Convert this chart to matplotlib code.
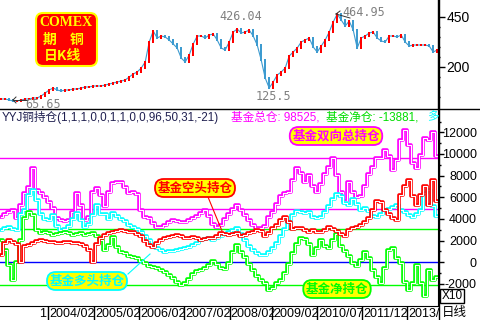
import numpy as np
import matplotlib.pyplot as plt
from matplotlib.patches import FancyBboxPatch
from matplotlib.lines import Line2D
from matplotlib.transforms import IdentityTransform

plt.rcParams['font.family'] = ['Liberation Sans', 'Noto Sans CJK SC', 'DejaVu Sans']

# COMEX copper, weekly close (scale of the price panel)
price = [40, 40, 35, 30, 30, 35, 40, 40, 45, 45,
         55, 70, 85, 95, 85, 80, 85, 85, 90, 90,
         95, 100, 100, 105, 105, 105, 110, 115, 120, 125,
         130, 135, 150, 165, 175, 195, 225, 325, 380, 345,
         355, 350, 335, 315, 295, 245, 225, 260, 315, 355,
         355, 345, 360, 365, 335, 295, 285, 325, 375, 390,
         370, 375, 385, 355, 310, 235, 145, 95, 125, 160,
         175, 195, 255, 275, 295, 325, 335, 345, 300, 275,
         305, 335, 375, 425, 465, 435, 405, 430, 385, 295,
         345, 355, 370, 375, 345, 330, 325, 355, 355, 350,
         360, 325, 305, 310, 310, 310, 310, 305, 275, 285]

# fund positions (contracts / 10)
total_pos = [4180, 4460, 4640, 4830, 4090, 5290, 6400, 6950, 8700, 6670,
             6400, 6030, 5570, 5010, 4090, 3900, 3810, 3900, 4640, 6400,
             5290, 3900, 4180, 6490, 6860, 6210, 5200, 6490, 7320, 7410,
             7410, 6950, 6400, 6490, 6300, 4830, 4180, 4090, 3630, 3260,
             3260, 3440, 3720, 3900, 3810, 3720, 3720, 3900, 4090, 4270,
             4550, 4830, 4270, 3540, 3260, 3440, 4000, 4460, 4920, 5290,
             4830, 4370, 3900, 3440, 3170, 3170, 3350, 4180, 4640, 5380,
             6120, 6400, 6490, 7600, 8700, 8240, 7410, 8060, 7040, 6490,
             7230, 8150, 8800, 9630, 8060, 6490, 5660, 7410, 6490, 6030,
             6120, 7040, 8150, 8800, 9630, 9630, 10370, 9810, 8520, 9440,
             11290, 12210, 10830, 9170, 8700, 9900, 11470, 11290, 12030, 9850]
long_pos = [2980, 3170, 3260, 3070, 2980, 4460, 4830, 6210, 6670, 5750,
            4460, 4000, 3900, 4370, 3350, 2980, 3070, 3350, 4000, 4550,
            3900, 3260, 3540, 4370, 5290, 4460, 4460, 4000, 4550, 4270,
            4000, 3810, 3440, 3260, 3070, 2800, 2430, 2060, 1600, 1320,
            1140, 950, 1040, 1040, 1140, 1230, 1320, 1410, 1600, 1780,
            2060, 2150, 2240, 2060, 2240, 2430, 2610, 2800, 2980, 3170,
            2610, 2060, 1500, 1140, 860, 670, 670, 950, 1320, 1780,
            2430, 3070, 3720, 4370, 4740, 4640, 4550, 4640, 4180, 4090,
            4180, 4640, 5200, 5840, 6300, 6120, 5470, 5290, 5840, 5380,
            4830, 5010, 4740, 4270, 4180, 4460, 4740, 4920, 5100, 5290,
            4830, 4640, 4370, 4180, 4460, 4830, 6400, 6670, 5200, 4230]
short_pos = [670, 1780, 2060, 1870, 1690, 50, 1500, 1600, 1780, 1970,
             2060, 1970, 1870, 1870, 1780, 1780, 1870, 1870, 1780, 1780,
             1690, 1500, 1140, 50, 1690, 2240, 2520, 2700, 2800, 2890,
             2980, 2890, 2800, 2800, 2610, 2430, 1970, 1600, 1410, 1780,
             2060, 2240, 2340, 2430, 2520, 2430, 2240, 2240, 2340, 2240,
             2060, 2150, 2240, 2240, 2430, 2700, 2610, 2520, 2610, 2700,
             2430, 2520, 2700, 2800, 2980, 2890, 2430, 2700, 3170, 3440,
             3900, 4180, 3720, 3070, 3170, 3170, 2980, 2800, 2980, 2800,
             2800, 2980, 3260, 3070, 2890, 2610, 2430, 2980, 3170, 3260,
             3440, 3720, 4090, 4830, 5660, 5570, 4830, 4460, 4090, 3900,
             6210, 7040, 7600, 6120, 5290, 6210, 7040, 5290, 7600, 5620]
net_pos = [2060, 1140, -250, -1630, 30, 2060, 4090, 4640, 4370, 2980,
           2700, 2800, 2700, 2520, 2610, 2700, 2800, 2700, 2520, 2610,
           2700, 2520, 2610, 2700, 2430, 2060, 1140, 1600, 2340, 1410,
           950, 860, 580, 490, 400, 120, -60, -340, -430, -530,
           -710, -900, -1170, -1450, -1820, -2100, -1910, -1540, -1080, -800,
           -710, -530, -250, 120, -160, -530, -620, -60, 950, 1600,
           950, 490, -160, -710, -1260, -1630, -1910, -2560, -2370, -1910,
           -1630, -990, -160, 860, 1690, 2240, 2150, 1690, 670, 1320,
           2060, 1500, 1320, 2060, 2610, 1500, 1040, 580, -60, -340,
           210, 950, 400, -710, -1360, -1910, -530, 1140, 1320, 400,
           -60, -1820, -2560, -1910, -250, -1910, -3110, -710, -1630, -1390]

total_levels = [9630, 4950]
net_levels = [3070, -2100]

date_ticks = [11.7, 23.2, 34.4, 45.7, 57.1, 67.7, 79.0, 90.2, 101.5]
date_labels = ['2004/02', '2005/02', '2006/02', '2007/02', '2008/02',
               '2009/02', '2010/07', '2011/12', '2013/']

MAG, CYA, GRN, RED = '#FF00FF', '#00FFFF', '#00FF00', '#FF0000'
UP, DOWN = '#FF0000', '#3D9BD0'


def P(x, y):
    return x / 480, 1 - y / 320


fig = plt.figure(figsize=(4.8, 3.2), dpi=100)
ax1 = fig.add_axes([0, 1 - 108 / 320, 438 / 480, 108 / 320])
ax2 = fig.add_axes([0, 1 - 306 / 320, 438 / 480, 197 / 320])

x = np.arange(len(price))
xlim = (-0.3, 109.2)

# price bars: from previous close to close
p = np.array(price, dtype=float)
prev = np.r_[p[0], p[:-1]]
lo = np.minimum(prev, p) - 3
hi = np.maximum(prev, p) + 3
cols = [UP if c >= o else DOWN for o, c in zip(prev, p)]
ax1.plot(x, p, color=DOWN, lw=0.8, zorder=1)
ax1.bar(x, hi - lo, bottom=lo, width=0.6, color=cols, linewidth=0, zorder=2)
ax1.set_xlim(*xlim)
ax1.set_ylim(-5, 535)
for s in ['left', 'top', 'bottom']:
    ax1.spines[s].set_visible(False)
ax1.spines['right'].set_linewidth(1)
ax1.set_xticks([])
ax1.yaxis.tick_right()
ax1.set_yticks([200, 450], ['200', '450'])
ax1.set_yticks([50, 100, 150, 250, 300, 350, 400], minor=True)
ax1.tick_params(axis='y', which='major', length=5, width=1, pad=18, labelsize=10)
ax1.tick_params(axis='y', which='minor', length=1.5, width=1)
for lab in ax1.get_yticklabels():
    lab.set_horizontalalignment('right')

mono = dict(family='DejaVu Sans Mono', color='#808080', fontsize=8.5)
fig.text(*P(241, 17), '426.04', ha='center', va='center', **mono)
fig.text(*P(364, 12), '464.95', ha='center', va='center', **mono)
fig.text(*P(273, 96), '125.5', ha='center', va='center', **mono)
fig.text(*P(43, 104), '65.65', ha='center', va='center', **mono)
for (a, b), (c, d) in [((336, 14), (350, 18)), ((336, 14), (340, 11)),
                       ((13, 100), (27, 100)), ((13, 100), (16, 97)), ((13, 100), (16, 103))]:
    fig.add_artist(Line2D([a / 480, c / 480], [1 - b / 320, 1 - d / 320], color='#333333', lw=0.7))

# COMEX badge
fig.add_artist(FancyBboxPatch((36, 320 - 66), 61, 53, boxstyle='round,pad=0,rounding_size=7',
                              fc='#FF0000', ec='#FFFF00', lw=1.5, transform=IdentityTransform()))
fig.text(*P(66, 23), 'COMEX', family='Liberation Serif', fontweight='bold', fontsize=10,
         color='#FFFF00', ha='center', va='center')
fig.text(*P(50, 40), '期', family='Noto Sans CJK SC', fontweight='bold', fontsize=10,
         color='#FFFF00', ha='center', va='center')
fig.text(*P(77, 40), '铜', family='Noto Sans CJK SC', fontweight='bold', fontsize=10,
         color='#FFFF00', ha='center', va='center')
fig.text(*P(63, 56), '日K线', family=['Noto Sans CJK SC'], fontweight='bold', fontsize=10,
         color='#FFFF00', ha='center', va='center')

# position panel
ax2.axhline(0, color='#0000FF', lw=1, zorder=1)
for lv in total_levels:
    ax2.axhline(lv, color=MAG, lw=1, zorder=1)
for lv in net_levels:
    ax2.axhline(lv, color=GRN, lw=1, zorder=1)
for vals, col in [(total_pos, MAG), (long_pos, CYA), (net_pos, GRN), (short_pos, RED)]:
    ax2.plot(x, vals, color=col, lw=2.6, drawstyle='steps-mid', zorder=2)
    ax2.plot(x, vals, color='white', lw=0.8, drawstyle='steps-mid', zorder=2)
ax2.set_xlim(*xlim)
ax2.set_ylim(-4035, 14155)
for s in ['left', 'top']:
    ax2.spines[s].set_visible(False)
ax2.yaxis.tick_right()
yt = [-2000, 0, 2000, 4000, 6000, 8000, 10000, 12000]
ax2.set_yticks(yt, [str(v) for v in yt])
ax2.set_yticks(np.arange(-3000, 14000, 1000), minor=True)
ax2.tick_params(axis='y', which='major', length=4, width=1, pad=24, labelsize=9)
ax2.tick_params(axis='y', which='minor', length=2, width=1)
for lab in ax2.get_yticklabels():
    lab.set_horizontalalignment('right')
ax2.set_xticks(date_ticks, [''] * len(date_ticks))
ax2.tick_params(axis='x', length=10, width=1, direction='out')
xt = ax2.get_xaxis_transform()
for t, lab in zip(date_ticks, date_labels):
    ax2.text(t + 0.3, -0.01, lab, transform=xt, ha='left', va='top', fontsize=9, clip_on=False)
ax2.text(date_ticks[0] - 0.4, -0.01, '1', transform=xt, ha='right', va='top', fontsize=9)

# header line
fig.text(*P(2, 117), 'YYJ铜持仓(1,1,1,0,0,1,1,0,0,96,50,31,-21)', color='#202050',
         fontsize=8.4, va='center')
fig.text(*P(231, 117), '基金总仓: 98525,', color=MAG, fontsize=8.4, va='center')
fig.text(*P(326, 117), '基金净仓: -13881,', color='#00DD00', fontsize=8.4, va='center')
fig.text(*P(427, 117), '多', color=CYA, fontsize=8.4, va='center')


def bubble(cx, cy, s, col):
    fig.text(*P(cx, cy), s, color=col, fontsize=9, fontweight='bold', ha='center', va='center',
             family=['Noto Sans CJK SC'],
             bbox=dict(boxstyle='round,pad=0.2,rounding_size=0.7', fc='#FFFF00', ec=col, lw=1.3))


bubble(336, 136, '基金双向总持仓', MAG)
bubble(195, 188, '基金空头持仓', RED)
bubble(87, 281, '基金多头持仓', CYA)
bubble(337, 289, '基金净持仓', GRN)
fig.add_artist(Line2D([208 / 480, 222 / 480], [1 - 197 / 320, 1 - 231 / 320], color=RED, lw=0.8))
fig.add_artist(Line2D([128 / 480, 150 / 480], [1 - 274 / 320, 1 - 254 / 320], color=CYA, lw=0.8))

# frame lines
fig.add_artist(Line2D([0, 1], [1 - 108.5 / 320] * 2, color='black', lw=1))
fig.add_artist(Line2D([438.5 / 480] * 2, [0, 1], color='black', lw=1))
fig.text(*P(452, 296), 'X10', fontsize=8.5, ha='center', va='center',
         bbox=dict(boxstyle='square,pad=0.12', fc='white', ec='black', lw=1))
fig.text(*P(442, 313), '日线', fontsize=9, ha='left', va='center')

fig.savefig('out.png', dpi=100)
